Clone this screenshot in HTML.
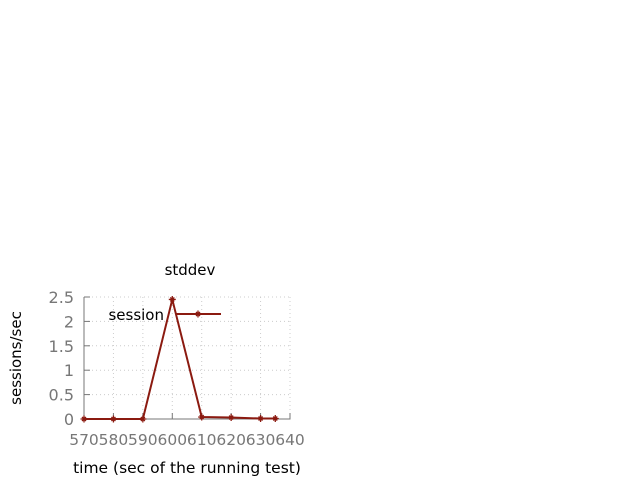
<!DOCTYPE html>
<html><head><style>body{margin:0;background:#fff}svg{display:block}text{font-family:"DejaVu Sans",sans-serif}</style></head>
<body>
<svg id="c" width="640" height="480"></svg>
<script>
const xs=[570,580,590,600,610,620,630,635];
const ys=[0,0,0,2.45,0.04,0.03,0.01,0.01];
const xTicks=[570,580,590,600,610,620,630,640];
const yTicks=[0,0.5,1,1.5,2,2.5];
const yLabels=["0","0.5","1","1.5","2","2.5"];
const NS="http://www.w3.org/2000/svg";
const svg=document.getElementById('c');
const X=v=>84+(v-570)*(206/70), Y=v=>419-v*(122/2.5);
function el(t,a,txt){const e=document.createElementNS(NS,t);for(const k in a)e.setAttribute(k,a[k]);if(txt!=null)e.textContent=txt;svg.appendChild(e);return e;}
xTicks.forEach((t,i)=>{
 const g=el('line',{x1:X(t),x2:X(t),y1:297,y2:419,stroke:'#ccc','stroke-dasharray':'1,3'});
 
 
 const k=el('line',{x1:X(t),x2:X(t),y1:419,y2:413,stroke:'#777'});
 
 
 const l=el('text',{x:X(t),y:445,'text-anchor':'middle','font-size':15.5,fill:'#777'},t);
 
 
});
yTicks.forEach((t,i)=>{
 const g=el('line',{x1:84,x2:290,y1:Y(t),y2:Y(t),stroke:'#ccc','stroke-dasharray':'1,3'});
 
 
 const k=el('line',{x1:84,x2:90,y1:Y(t),y2:Y(t),stroke:'#777'});
 
 
 const l=el('text',{x:74,y:Y(t)+6,'text-anchor':'end','font-size':16,fill:'#777'},yLabels[i]);
 
 
});
const ax=el('path',{d:'M84 297V419H290V413',fill:'none',stroke:'#777'});


const ln=el('polyline',{points:xs.map((x,i)=>X(x)+','+Y(ys[i])).join(' '),fill:'none',stroke:'#8b1a10','stroke-width':2});


function mk(x,y,n){const m=el('path',{d:`M${x-3.5} ${y}h7M${x} ${y-3.5}v7M${x-2} ${y-2}l4 4M${x-2} ${y+2}l4 -4`,stroke:'#8b1a10','stroke-width':1.3});}
xs.forEach((x,i)=>mk(X(x),Y(ys[i]),'session-point'));
const lg=el('text',{x:164,y:320,'text-anchor':'end','font-size':15,fill:'#000'},'session');


const ll=el('line',{x1:176,x2:221,y1:314,y2:314,stroke:'#8b1a10','stroke-width':2});


mk(198,314,'legend-marker');
const t=el('text',{x:190,y:275,'text-anchor':'middle','font-size':15},'stddev');


const xt=el('text',{x:187,y:473,'text-anchor':'middle','font-size':15.5},'time (sec of the running test)');


const yt=el('text',{x:0,y:0,'text-anchor':'middle','font-size':15,transform:'translate(21,358) rotate(-90)'},'sessions/sec');


</script>
</body></html>
